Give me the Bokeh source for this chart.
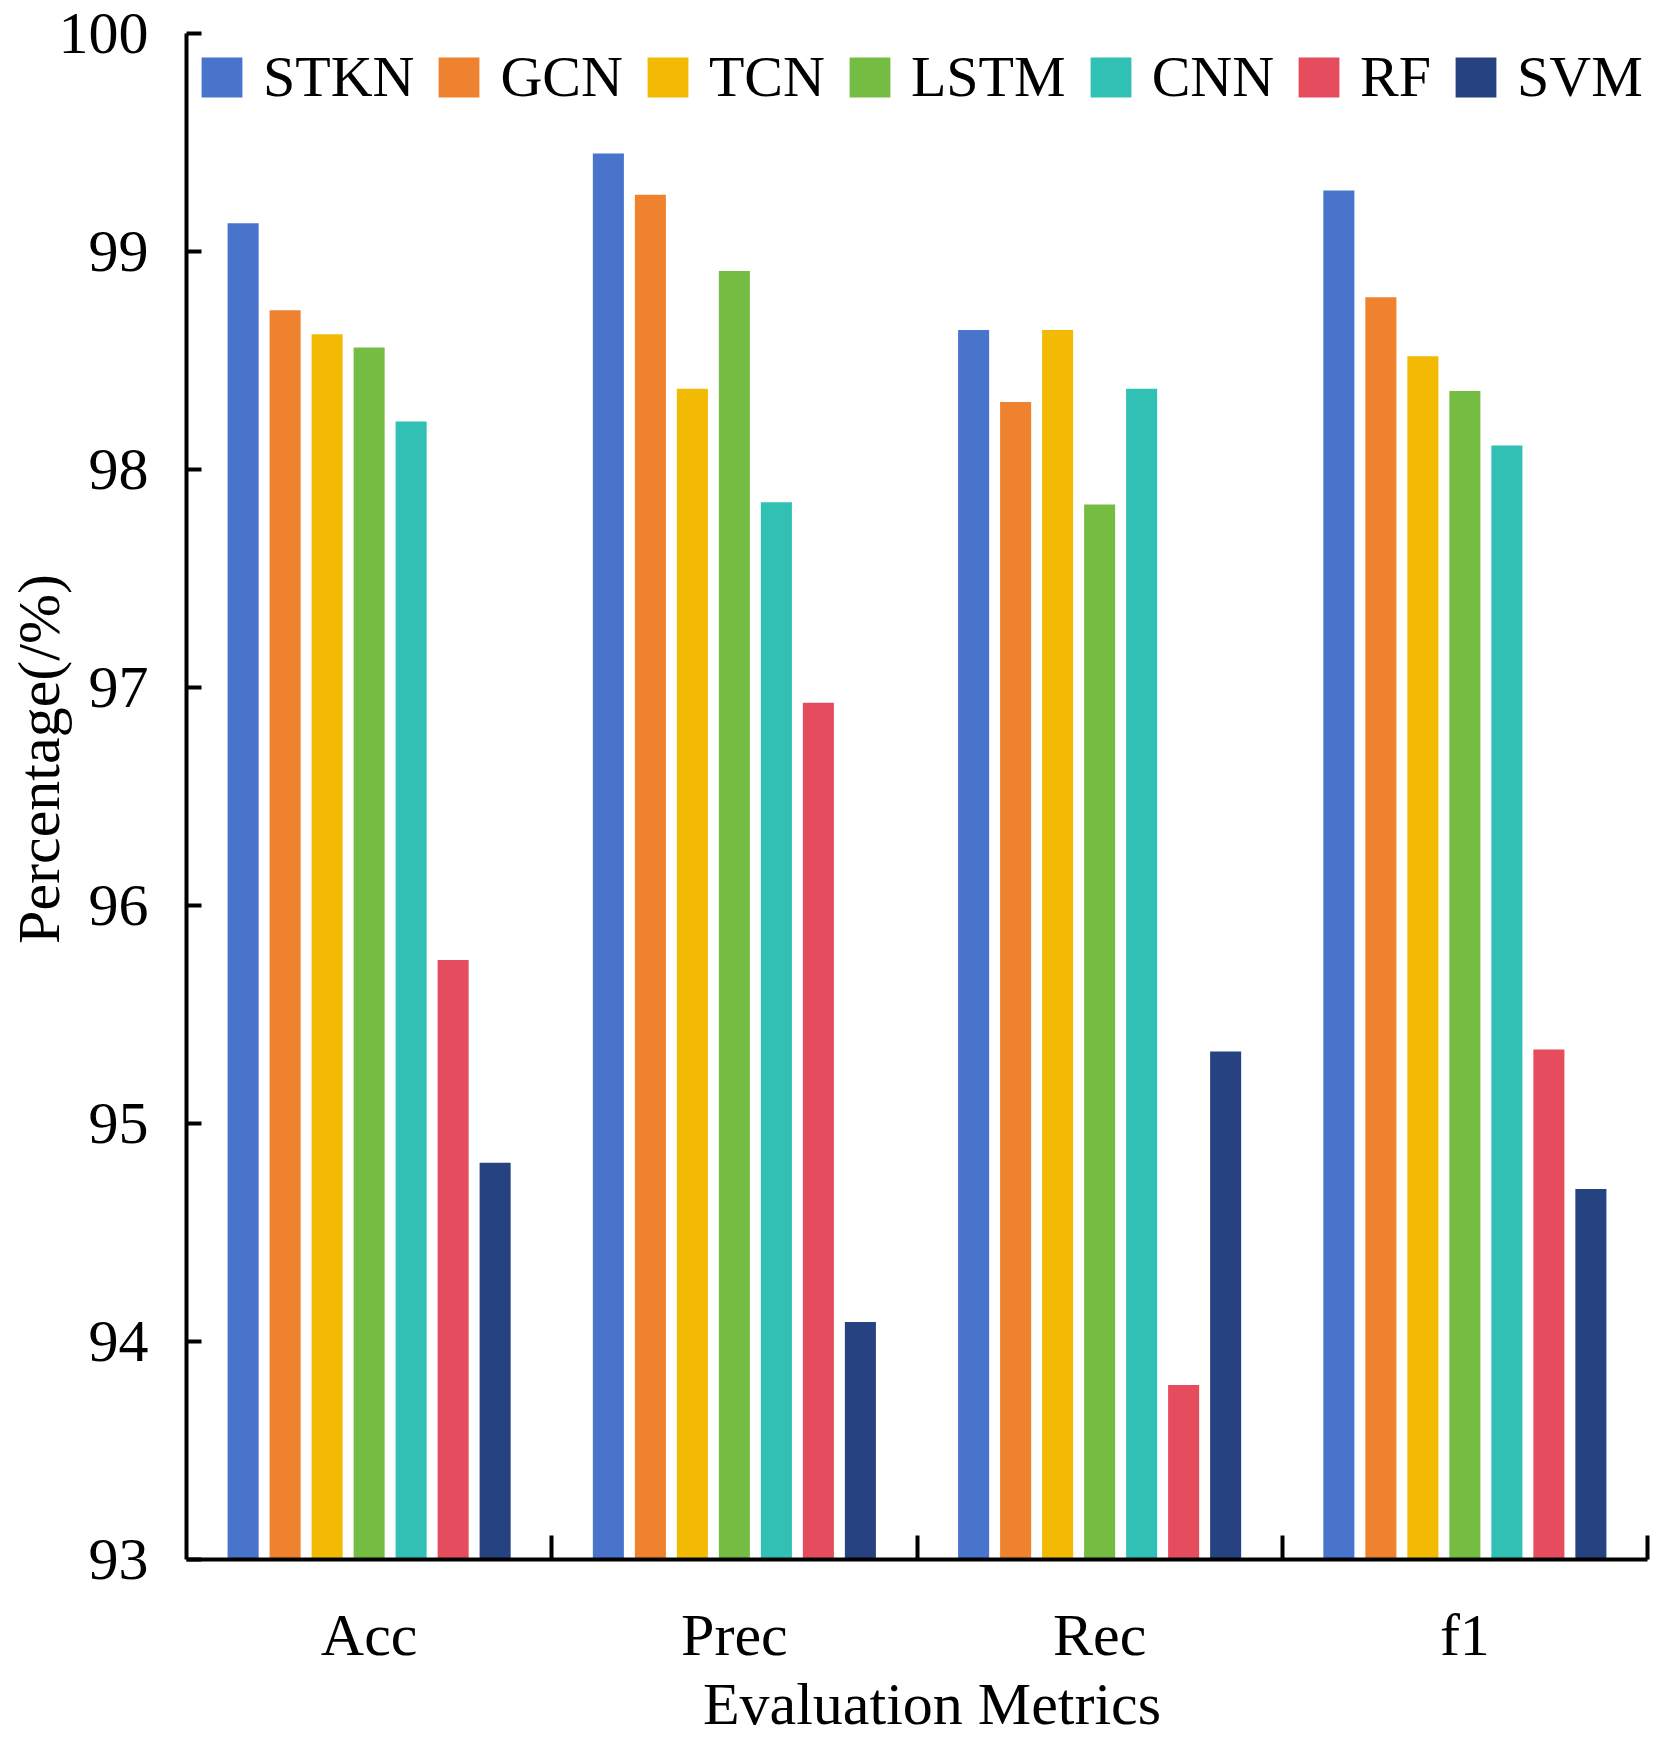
from bokeh.plotting import figure
from bokeh.models import ColumnDataSource, Range1d, FixedTicker, Legend, LegendItem, LinearAxis
from bokeh.embed import file_html
from bokeh.resources import INLINE

categories = ["Acc", "Prec", "Rec", "f1"]
models = ["STKN", "GCN", "TCN", "LSTM", "CNN", "RF", "SVM"]
colors = ["#4874CB", "#EE822F", "#F2BA02", "#75BD42", "#30C0B4", "#E54C5E", "#264281"]

STKN = [99.13, 99.45, 98.64, 99.28]
GCN = [98.73, 99.26, 98.31, 98.79]
TCN = [98.62, 98.37, 98.64, 98.52]
LSTM = [98.56, 98.91, 97.84, 98.36]
CNN = [98.22, 97.85, 98.37, 98.11]
RF = [95.75, 96.93, 93.80, 95.34]
SVM = [94.82, 94.09, 95.33, 94.70]
series = [STKN, GCN, TCN, LSTM, CNN, RF, SVM]

y_ticks = [93, 94, 95, 96, 97, 98, 99, 100]
x_title = "Evaluation Metrics"
y_title = "Percentage(/%)"

FONT = "Liberation Serif"
FS = "60px"
LFS = "58px"
NBSP = "\u00a0"

p = figure(width=1660, height=1740, output_backend="svg", toolbar_location=None,
           x_range=Range1d(0, len(categories)), y_range=Range1d(93, 100),
           min_border_left=186, min_border_right=13, min_border_top=33, min_border_bottom=181)
p.outline_line_color = None
p.xgrid.visible = False
p.ygrid.visible = False
p.background_fill_color = "white"

pitch = 0.115
bw = 0.085
items = []
for j, (name, vals, col) in enumerate(zip(models, series, colors)):
    xs = [i + 0.5 + (j - 3) * pitch for i in range(len(categories))]
    src = ColumnDataSource(dict(x=xs, top=vals, cat=categories))
    r = p.vbar(x="x", top="top", bottom=93, width=bw, source=src, fill_color=col, line_color=None)
    items.append(LegendItem(label=name, renderers=[r]))

legend = Legend(items=items, orientation="horizontal", location="top_left")
legend.label_text_font = FONT
legend.label_text_font_size = LFS
legend.label_text_color = "black"
legend.glyph_width = 51
legend.glyph_height = 50
legend.label_standoff = 16
legend.spacing = 19
legend.padding = 10
legend.margin = 10
legend.border_line_color = None
legend.background_fill_alpha = 0
p.add_layout(legend, "center")

# x axis (ticks at category boundaries, labels at category centres)
xa = p.xaxis[0]
xa.ticker = FixedTicker(ticks=[i + 0.5 for i in range(len(categories))],
                        minor_ticks=[i + 1 for i in range(len(categories))])
xa.major_label_overrides = {i + 0.5: c for i, c in enumerate(categories)}
xa.major_tick_line_color = None
xa.minor_tick_in = 24
xa.minor_tick_out = 0
xa.minor_tick_line_width = 4
xa.minor_tick_line_color = "black"
xa.axis_line_width = 4
xa.axis_line_color = "black"
xa.major_label_text_font = FONT
xa.major_label_text_font_size = FS
xa.major_label_text_color = "black"
xa.major_label_standoff = 36

# y axis
ya = p.yaxis[0]
ya.ticker = FixedTicker(ticks=y_ticks)
ya.minor_tick_line_color = None
ya.major_tick_in = 15
ya.major_tick_out = 0
ya.major_tick_line_width = 4
ya.axis_line_width = 4
ya.axis_line_color = "black"
ya.major_label_text_font = FONT
ya.major_label_text_font_size = FS
ya.major_label_text_color = "black"
ya.major_label_standoff = 38

def title_axis(label, standoff):
    ax = LinearAxis(ticker=FixedTicker(ticks=[]), axis_label=label)
    ax.axis_line_color = None
    ax.major_tick_line_color = None
    ax.minor_tick_line_color = None
    ax.major_tick_out = 0
    ax.major_tick_in = 0
    ax.minor_tick_out = 0
    ax.major_label_standoff = 0
    ax.axis_label_standoff = standoff
    ax.axis_label_text_font = FONT
    ax.axis_label_text_font_size = FS
    ax.axis_label_text_font_style = "normal"
    ax.axis_label_text_color = "black"
    return ax

# the reference titles sit slightly off-centre (right of centre / above centre):
# leading no-break spaces shift the centred text accordingly
p.add_layout(title_axis(NBSP * 2 + x_title, 0), "below")
p.add_layout(title_axis(NBSP * 5 + y_title, -16), "left")

open("out.html", "w").write(file_html(p, INLINE))
